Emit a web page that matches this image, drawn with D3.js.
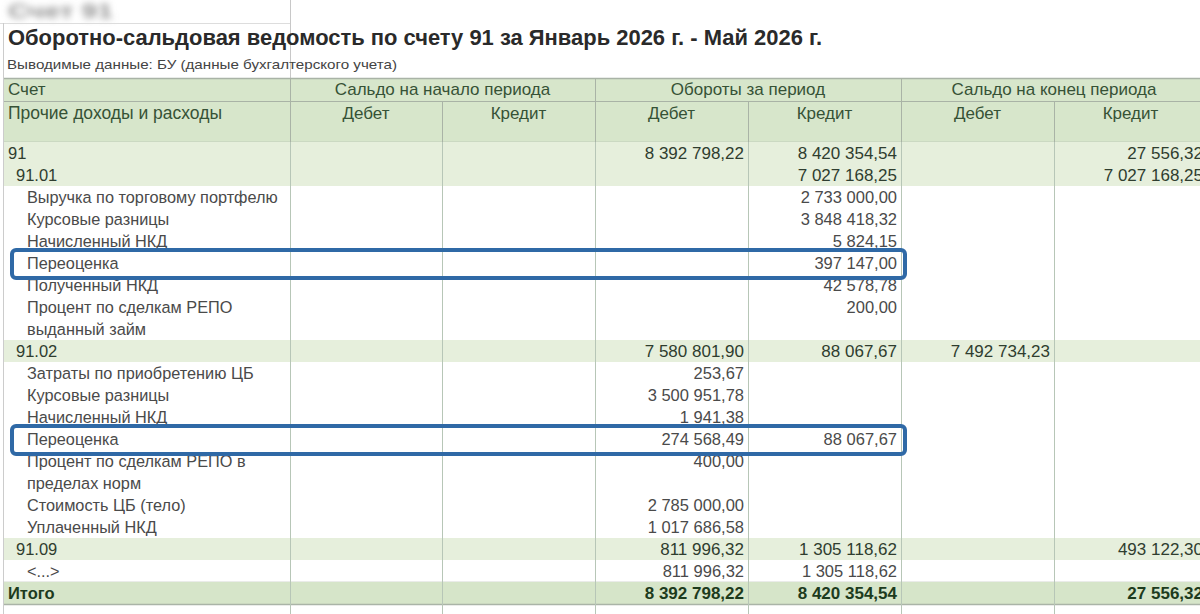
<!DOCTYPE html>
<html>
<head>
<meta charset="utf-8">
<script src="https://cdn.jsdelivr.net/npm/d3@7"></script>
<style>
  body { margin: 0; background: #fff; }
  svg { display: block; font-family: "Liberation Sans", Arial, sans-serif; }
</style>
</head>
<body>
<div id="chart"></div>
<script>
'use strict';

// report texts
var title = "Оборотно-сальдовая ведомость по счету 91 за Январь 2026 г. - Май 2026 г.";
var subtitle = "Выводимые данные: БУ (данные бухгалтерского учета)";
var groupHeaders = ["Сальдо на начало периода", "Обороты за период", "Сальдо на конец периода"];
var subHeaders = ["Дебет", "Кредит", "Дебет", "Кредит", "Дебет", "Кредит"];

// rows: label (\n = wrapped), level 0 account, 1 subaccount, 2 detail, 3 total
var rowLabels = [
  "91", "91.01", "Выручка по торговому портфелю", "Курсовые разницы", "Начисленный НКД",
  "Переоценка", "Полученный НКД", "Процент по сделкам РЕПО\nвыданный займ",
  "91.02", "Затраты по приобретению ЦБ", "Курсовые разницы", "Начисленный НКД",
  "Переоценка", "Процент по сделкам РЕПО в\nпределах норм", "Стоимость ЦБ (тело)",
  "Уплаченный НКД", "91.09", "<...>", "Итого"
];
var rowLevels = [0, 1, 2, 2, 2, 2, 2, 2, 1, 2, 2, 2, 2, 2, 2, 2, 1, 2, 3];

var startDebit  = [null, null, null, null, null, null, null, null, null, null, null, null, null, null, null, null, null, null, null];
var startCredit = [null, null, null, null, null, null, null, null, null, null, null, null, null, null, null, null, null, null, null];
var turnDebit   = [8392798.22, null, null, null, null, null, null, null, 7580801.90, 253.67, 3500951.78, 1941.38, 274568.49, 400.00, 2785000.00, 1017686.58, 811996.32, 811996.32, 8392798.22];
var turnCredit  = [8420354.54, 7027168.25, 2733000.00, 3848418.32, 5824.15, 397147.00, 42578.78, 200.00, 88067.67, null, null, null, 88067.67, null, null, null, 1305118.62, 1305118.62, 8420354.54];
var endDebit    = [null, null, null, null, null, null, null, null, 7492734.23, null, null, null, null, null, null, null, null, null, null];
var endCredit   = [27556.32, 7027168.25, null, null, null, null, null, null, null, null, null, null, null, null, null, null, 493122.30, null, 27556.32];

// rows framed in blue
var highlighted = [5, 12];

var W = 1200, H = 614;
var svg = d3.select("#chart").append("svg").attr("width", W).attr("height", H);

var ru = d3.formatLocale({decimal: ",", thousands: "\u00a0", grouping: [3], currency: ["", ""]});
var fmt = ru.format(",.2f");

var valueCols = [startDebit, startCredit, turnDebit, turnCredit, endDebit, endCredit];

// columns: 0 = account name, 1..6 = values
var colEdges = [4, 290, 442, 595, 748, 901, 1054, 1207];
var x = function(i) { return colEdges[i]; };

// row geometry in text lines
var rowLines = rowLabels.map(function(l) { return l.split("\n").length; });
var rowStart = [];
rowLabels.reduce(function(acc, l, i) { rowStart.push(acc); return acc + rowLines[i]; }, 0);
var totalLines = d3.sum(rowLines);
var lineH = 22;
var y = d3.scaleLinear().domain([0, totalLines]).range([142, 142 + totalLines * lineH]);

var defs = svg.append("defs");
defs.append("filter").attr("id", "blur").attr("x", "-20%").attr("y", "-50%").attr("width", "140%").attr("height", "200%")
  .append("feGaussianBlur").attr("stdDeviation", 3.5);

// blurred screen header & screenshot edges
svg.append("text").attr("x", 8).attr("y", 18).attr("font-size", 20).attr("font-weight", "bold")
  .attr("fill", "#8f8f8f").attr("filter", "url(#blur)")
  .attr("textLength", 105).attr("lengthAdjust", "spacingAndGlyphs").text("Счет 91");
svg.append("line").attr("x1", 0).attr("x2", 290).attr("y1", 23.5).attr("y2", 23.5).attr("stroke", "#ddd");
svg.append("line").attr("x1", 290.5).attr("x2", 290.5).attr("y1", 0).attr("y2", 78).attr("stroke", "#c8c8c8");
svg.append("line").attr("x1", 3.5).attr("x2", 3.5).attr("y1", 23).attr("y2", H).attr("stroke", "#ccc");

svg.append("text").attr("x", 8).attr("y", 45).attr("font-size", 21.5).attr("font-weight", "bold")
  .attr("fill", "#2a2a2a").attr("textLength", 814).attr("lengthAdjust", "spacingAndGlyphs").text(title);
svg.append("text").attr("x", 7).attr("y", 69).attr("font-size", 13).attr("fill", "#444")
  .attr("textLength", 390).attr("lengthAdjust", "spacingAndGlyphs").text(subtitle);

// ---- header ----
var hTop = 78, hMid = 101, hBot = 142;
var hdr = svg.append("g");
hdr.append("rect").attr("x", x(0)).attr("y", hTop).attr("width", x(7) - x(0)).attr("height", hBot - hTop)
  .attr("fill", "#d7e6cb");
var hdrText = "#365236";
var hdrSize = 17;

hdr.append("text").attr("x", x(0) + 4).attr("y", hTop + 17).attr("font-size", hdrSize).attr("fill", hdrText).text("Счет");
hdr.append("text").attr("x", x(0) + 4).attr("y", hMid + 18).attr("font-size", 17.5).attr("fill", hdrText).text("Прочие доходы и расходы");

groupHeaders.forEach(function(g, i) {
  hdr.append("text").attr("x", (x(1 + 2 * i) + x(3 + 2 * i)) / 2).attr("y", hTop + 17)
    .attr("text-anchor", "middle").attr("font-size", hdrSize).attr("fill", hdrText).text(g);
});
subHeaders.forEach(function(s, i) {
  hdr.append("text").attr("x", (x(1 + i) + x(2 + i)) / 2).attr("y", hMid + 18)
    .attr("text-anchor", "middle").attr("font-size", hdrSize).attr("fill", hdrText).text(s);
});

var hdrLine = "#a9b3a6";
[hTop, hMid, hBot].forEach(function(yy) {
  hdr.append("line").attr("x1", x(0)).attr("x2", x(7)).attr("y1", yy + 0.5).attr("y2", yy + 0.5)
    .attr("stroke", hdrLine).attr("stroke-width", yy === hMid ? 1 : 1.5);
});
d3.range(1, 7).forEach(function(i) {
  var full = (i % 2 === 1);
  hdr.append("line").attr("x1", x(i) + 0.5).attr("x2", x(i) + 0.5)
    .attr("y1", full ? hTop : hMid).attr("y2", hBot).attr("stroke", hdrLine);
});

// ---- body ----
var bgByLevel = ["#e6efdc", "#e6efdc", "#ffffff", "#d6e5c9"];
var textByLevel = ["#2f3d2f", "#2f3d2f", "#4a4a4a", "#1d3b1d"];
var indentByLevel = [4, 12, 23, 4];
var labelSize = [16.5, 16.5, 16.3, 16.5];
var numSize = [17, 17, 16.5, 17];

var rows = svg.append("g").selectAll("g.row")
  .data(rowLabels.map(function(l, i) { return {i: i, label: l, level: rowLevels[i]}; }))
  .enter().append("g").attr("class", "row");

rows.append("rect")
  .attr("x", x(0)).attr("width", x(7) - x(0))
  .attr("y", function(d) { return y(rowStart[d.i]); })
  .attr("height", function(d) { return y(rowStart[d.i] + rowLines[d.i]) - y(rowStart[d.i]); })
  .attr("fill", function(d) { return bgByLevel[d.level]; });

rows.append("line")
  .attr("x1", x(0)).attr("x2", x(7))
  .attr("y1", function(d) { return Math.round(y(rowStart[d.i] + rowLines[d.i])) + 0.5; })
  .attr("y2", function(d) { return Math.round(y(rowStart[d.i] + rowLines[d.i])) + 0.5; })
  .attr("stroke", function(d) { return d.level === 3 || d.i === rowLabels.length - 2 ? "#aab4a7" : "#c9d8c9"; })
  .attr("stroke-width", function(d) { return d.level === 3 || d.i === rowLabels.length - 2 ? 1.5 : 1; });

rows.append("text")
  .attr("x", function(d) { return x(0) + indentByLevel[d.level]; })
  .attr("y", function(d) { return y(rowStart[d.i]) + 17; })
  .attr("font-size", function(d) { return labelSize[d.level]; })
  .attr("font-weight", function(d) { return d.level === 3 ? "bold" : null; })
  .attr("fill", function(d) { return textByLevel[d.level]; })
  .selectAll("tspan")
  .data(function(d) { return d.label.split("\n"); })
  .enter().append("tspan")
  .attr("x", function() { return d3.select(this.parentNode).attr("x"); })
  .attr("dy", function(d, j) { return j ? lineH : 0; })
  .text(function(d) { return d; });

valueCols.forEach(function(col, c) {
  rows.filter(function(d) { return col[d.i] != null; })
    .append("text")
    .attr("x", x(c + 2) - 4)
    .attr("y", function(d) { return y(rowStart[d.i]) + 17; })
    .attr("text-anchor", "end")
    .attr("font-size", function(d) { return numSize[d.level]; })
    .attr("font-weight", function(d) { return d.level === 3 ? "bold" : null; })
    .attr("fill", function(d) { return textByLevel[d.level]; })
    .text(function(d) { return fmt(col[d.i]); });
});

// vertical grid in body
d3.range(1, 7).forEach(function(i) {
  svg.append("line").attr("x1", x(i) + 0.5).attr("x2", x(i) + 0.5)
    .attr("y1", hBot).attr("y2", H).attr("stroke", "#b7c6b7");
});

// blue frames
svg.append("g").selectAll("rect.frame")
  .data(highlighted)
  .enter().append("rect").attr("class", "frame")
  .attr("x", x(0) + 8)
  .attr("y", function(r) { return y(rowStart[r]) - 2; })
  .attr("width", x(5) + 4 - (x(0) + 8))
  .attr("height", function(r) { return y(rowStart[r] + rowLines[r]) - y(rowStart[r]) + 6; })
  .attr("rx", 4)
  .attr("fill", "none")
  .attr("stroke", "#2f69a6")
  .attr("stroke-width", 4);
</script>
</body>
</html>
